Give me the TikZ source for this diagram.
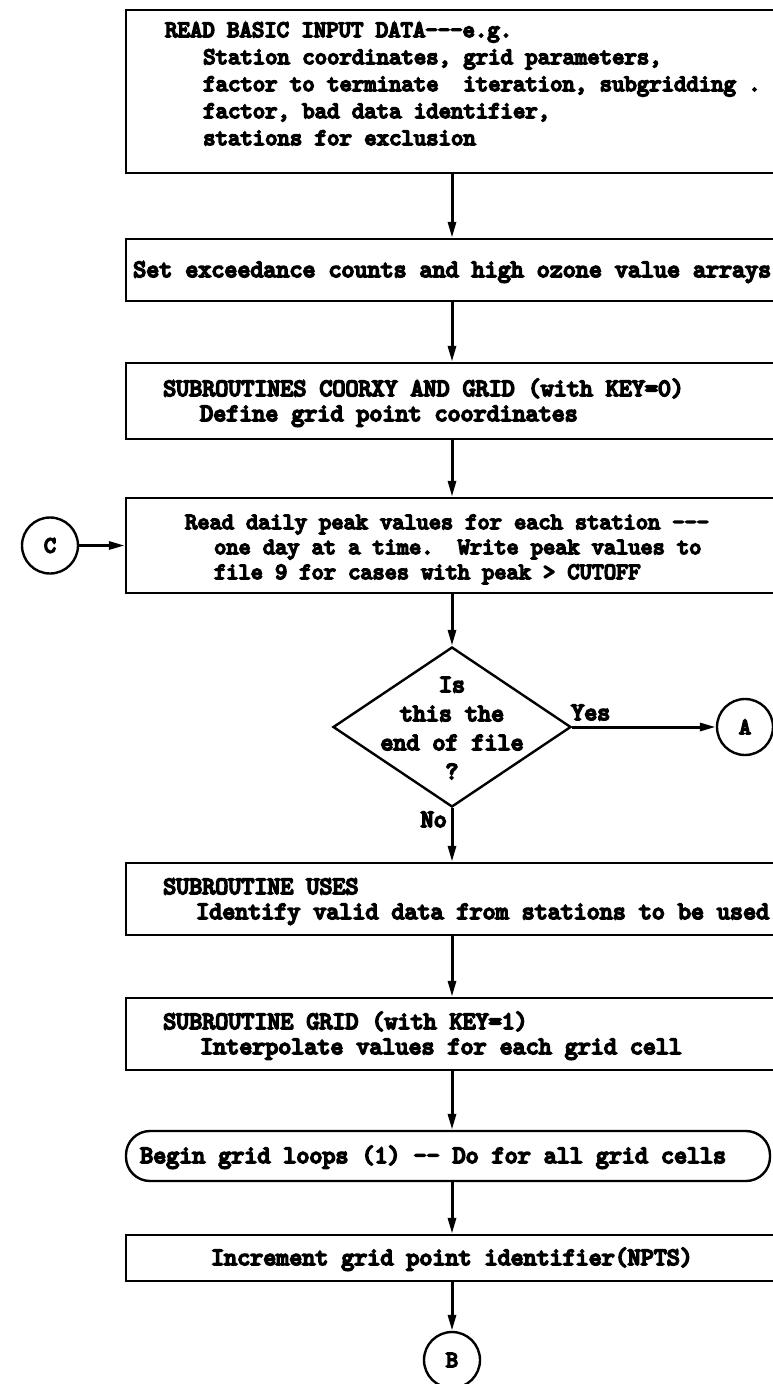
\documentclass[tikz,border=0pt]{standalone}
\usepackage{fontspec}
\usetikzlibrary{shapes.geometric,arrows.meta}
% heavy typewriter face
\newfontfamily\typewriterface{lmmono10-regular.otf}[FakeBold=7]
\newcommand{\typed}[1]{\fontsize{#1}{29}\selectfont\typewriterface}
\begin{document}
\begin{tikzpicture}[x=1pt,y=-1pt,
  every node/.style={font=\typed{24.8}, inner sep=0pt},
  box/.style={draw, line width=2.4pt, minimum width=652pt},
  stadium/.style={draw, line width=2.4pt, rounded corners=24pt, minimum width=644pt, minimum height=50pt},
  decision/.style={draw, diamond, line width=2.4pt, minimum width=238pt, minimum height=160pt},
  connector/.style={draw, circle, line width=2.4pt, minimum size=56pt, font=\typed{23}},
  txt/.style={anchor=base west},
  flow/.style={line width=3pt, -{Triangle[length=16pt,width=8pt]}},
]
\useasboundingbox (0,0) rectangle (773,1384);

% process boxes (they run on past the right margin)
\node[box, minimum height=163pt] (b1) at (452,91.5) {};
\node[box, minimum height=62pt]  (b2) at (452,270) {};
\node[box, minimum height=76pt]  (b3) at (452,401) {};
\node[box, minimum height=95pt]  (b4) at (452,545.5) {};
\node[decision] (dec) at (452,727) {};
\node[box, minimum height=72pt]  (b5) at (452,899) {};
\node[box, minimum height=72pt]  (b6) at (452,1034) {};
\node[stadium] (loop) at (448,1156) {};
\node[box, minimum height=46pt]  (b8) at (452,1258) {};

% off-page connectors
\node[connector] (C) at (50,545.5) {C};
\node[connector] (A) at (745,727) {A};
\node[connector] (B) at (452,1360) {B};

% box texts
\begin{scope}[every node/.append style={font=\typed{23.6}}]
\node[txt] (t11) at (165,37) {READ BASIC INPUT DATA---e.g.};
\node[txt] (t12) at (203,64) {Station coordinates, grid parameters,};
\node[txt] (t13) at (203,91) {factor to terminate\ \ iteration, subgridding .};
\node[txt] (t14) at (203,118) {factor, bad data identifier,};
\node[txt] (t15) at (203,145) {stations for exclusion};
\end{scope}

\node[txt] (t21) at (133,277) {Set exceedance counts and high ozone value arrays};

\node[txt] (t31) at (163,396) {SUBROUTINES COORXY AND GRID (with KEY=0)};
\node[txt] (t32) at (200,421) {Define grid point coordinates};

\begin{scope}[every node/.append style={font=\typed{23.2}}]
\node[txt] (t41) at (185,529) {Read daily peak values for each station ---};
\node[txt] (t42) at (214,554) {one day at a time.\ \ Write peak values to};
\node[txt] (t43) at (214,579) {file 9 for cases with peak > CUTOFF};
\end{scope}

\node[align=center] (dt) at (452,728) {Is\\this the\\end of file\\?};
\node[anchor=base west] (yes) at (571,720) {Yes};
\node[anchor=base east] (no) at (447,827) {No};

\node[txt] (t51) at (163,894) {SUBROUTINE USES};
\node[txt] (t52) at (196,919) {Identify valid data from stations to be used};

\node[txt] (t61) at (163,1029) {SUBROUTINE GRID (with KEY=1)};
\node[txt] (t62) at (200,1054) {Interpolate values for each grid cell};

\node[txt] (t71) at (140,1163) {Begin grid loops (1) -- Do for all grid cells};

\node[anchor=base] (t81) at (452,1265) {Increment grid point identifier(NPTS)};

% flow lines
\draw[flow] (b1.south) -- (b2.north);
\draw[flow] (b2.south) -- (b3.north);
\draw[flow] (b3.south) -- (b4.north);
\draw[flow] (C.east) -- (b4.west);
\draw[flow] (b4.south) -- (dec.north);
\draw[flow] (dec.east) -- (A.west);
\draw[flow] (dec.south) -- (b5.north);
\draw[flow] (b5.south) -- (b6.north);
\draw[flow] (b6.south) -- (b6.south |- loop.north);
\draw[flow] (b8.north |- loop.south) -- (b8.north);
\draw[flow] (b8.south) -- (B.north);
\end{tikzpicture}
\end{document}
